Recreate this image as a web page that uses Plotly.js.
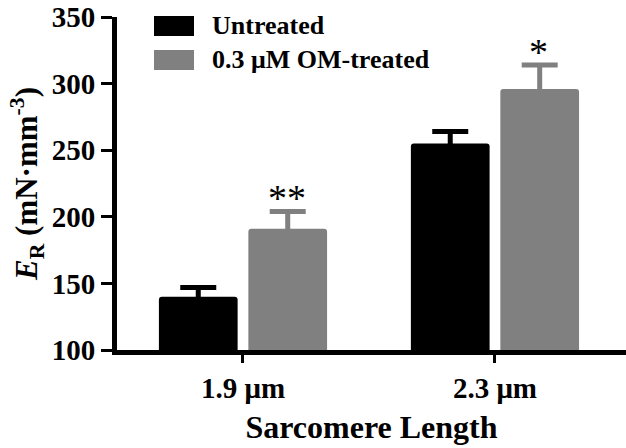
<!DOCTYPE html>
<html>
<head>
<meta charset="utf-8">
<script src="https://cdn.plot.ly/plotly-3.0.1.min.js"></script>
<style>
  body { margin: 0; background: #fff; }
  #grafico { width: 626px; height: 448px; }
</style>
</head>
<body>
<div id="grafico"></div>
<script>
// datos
let longitudes = ['1.9 μm', '2.3 μm'];
let sinTratar = [140, 255];
let sinTratarErr = [7, 9];
let tratado = [191, 296];
let tratadoErr = [13, 18];
let marcas = ['**', '*'];

let serie = 'Liberation Serif, Times New Roman, serif';
// el tope inferior de la barra de error queda escondido dentro de la barra
let oculto = [4, 4];

let arriba = 17;
let alto = 448 - 98 - arriba;

let barrasNegras = {
	x: longitudes,
	y: sinTratar,
	name: 'Untreated',
	type: 'bar',
	marker: { color: '#000000' },
	error_y: { type: 'data', symmetric: false, array: sinTratarErr, arrayminus: oculto,
		color: '#000000', thickness: 5, width: 18 },
	showlegend: false
};
let barrasGrises = {
	x: longitudes,
	y: tratado,
	name: '0.3 μM OM-treated',
	type: 'bar',
	marker: { color: '#808080' },
	error_y: { type: 'data', symmetric: false, array: tratadoErr, arrayminus: oculto,
		color: '#808080', thickness: 5, width: 18 },
	showlegend: false
};

// asteriscos sobre las barras grises
let notas = [];
for (let i = 0; i < longitudes.length; i++) {
	notas.push({
		x: longitudes[i], y: tratado[i] + tratadoErr[i],
		xref: 'x', yref: 'y', text: marcas[i], showarrow: false,
		xshift: 44, yanchor: 'bottom', yshift: -10,
		font: { family: serie, size: 38, color: '#000' }
	});
}
// leyenda a mano (cuadros anchos como en la figura)
let leyenda = [
	{ nombre: barrasNegras.name, color: '#000000' },
	{ nombre: barrasGrises.name, color: '#808080' }
];
let formas = [];
leyenda.forEach(function (item, k) {
	formas.push({
		type: 'rect', xref: 'paper', yref: 'paper',
		x0: (154 - 117) / 509, x1: (194 - 117) / 509,
		y0: 1 - (16 + 34 * k + 20 - arriba) / alto, y1: 1 - (16 + 34 * k - arriba) / alto,
		fillcolor: item.color, line: { width: 0 }
	});
	notas.push({
		xref: 'paper', yref: 'paper',
		x: (210 - 117) / 509, y: 1 - (26 + 34 * k - arriba) / alto,
		xanchor: 'left', yanchor: 'middle', showarrow: false,
		text: item.nombre,
		font: { family: serie, size: 26, color: '#000', weight: 'bold' }
	});
});

let layout = {
	width: 626,
	height: 448,
	margin: { l: 117, r: 0, t: arriba, b: 98 },
	paper_bgcolor: '#ffffff',
	plot_bgcolor: '#ffffff',
	barmode: 'group',
	bargap: 0.29,
	bargroupgap: 0.12,
	barcornerradius: 3,
	showlegend: false,
	xaxis: {
		type: 'category',
		range: [-0.5, 1.52],
		showline: true, linecolor: '#000', linewidth: 5,
		ticks: 'outside', ticklen: 8, tickwidth: 3, tickcolor: '#000',
		showgrid: false, zeroline: false,
		tickfont: { family: serie, size: 29, color: '#000', weight: 'bold' },
		title: { text: 'Sarcomere Length', standoff: 14,
			font: { family: serie, size: 32, color: '#000', weight: 'bold' } }
	},
	yaxis: {
		range: [100, 350],
		tickvals: [100, 150, 200, 250, 300, 350],
		ticklabeloverflow: 'allow',
		showline: true, linecolor: '#000', linewidth: 5,
		ticks: 'outside', ticklen: 11, tickwidth: 3, tickcolor: '#000',
		showgrid: false, zeroline: false,
		tickfont: { family: serie, size: 29, color: '#000', weight: 'bold' },
		title: { text: '<i>E</i><sub>R</sub> (mN·mm<sup>-3</sup>)', standoff: 6,
			font: { family: serie, size: 31, color: '#000', weight: 'bold' } }
	},
	shapes: formas,
	annotations: notas
};

let contenedor = document.getElementById('grafico');
Plotly.newPlot(contenedor, [barrasNegras, barrasGrises], layout, { staticPlot: true });
</script>
</body>
</html>
